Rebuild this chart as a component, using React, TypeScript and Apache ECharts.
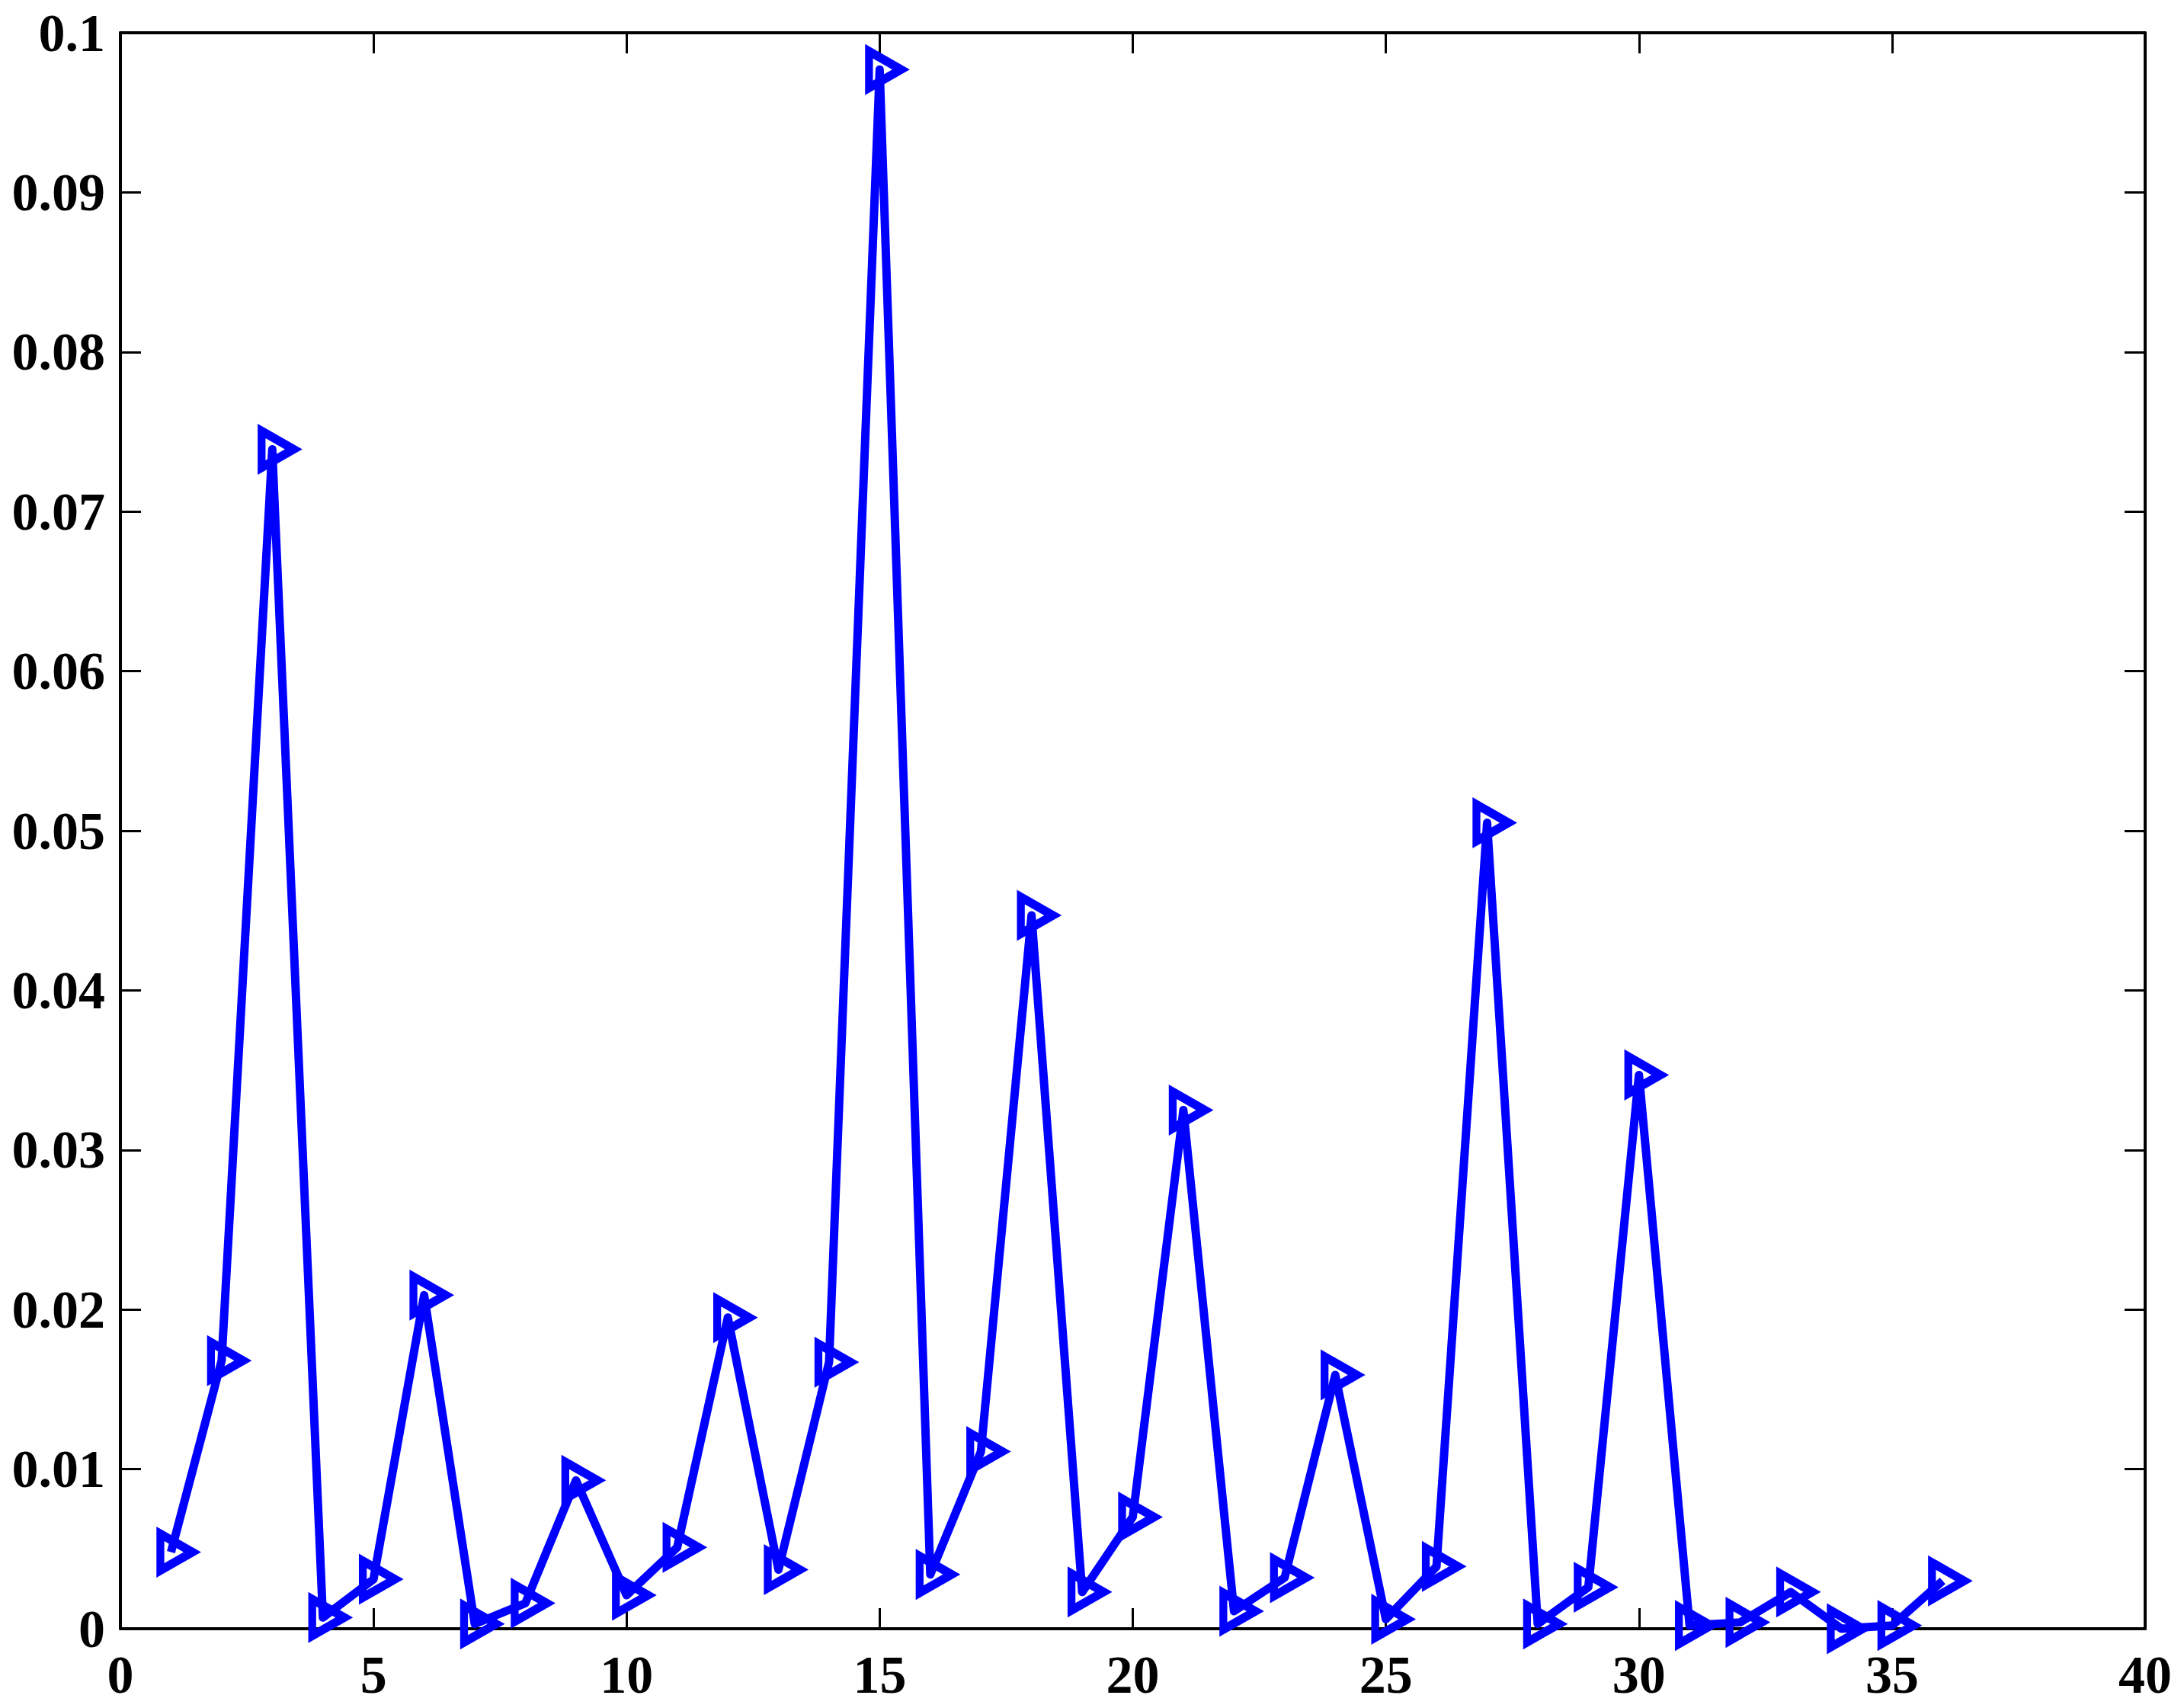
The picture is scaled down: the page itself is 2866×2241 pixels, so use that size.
import React, { useEffect, useRef } from "react";
import * as echarts from "echarts";

const xValues = [1, 2, 3, 4, 5, 6, 7, 8, 9, 10, 11, 12, 13, 14, 15, 16, 17, 18, 19, 20, 21, 22, 23, 24, 25, 26, 27, 28, 29, 30, 31, 32, 33, 34, 35, 36];
const yValues = [
  0.0048, 0.0168, 0.0739, 0.0007, 0.0031, 0.0209, 0.0003, 0.0016, 0.0093, 0.0021,
  0.0051, 0.0195, 0.0037, 0.0167, 0.0977, 0.0034, 0.0111, 0.0447, 0.0023, 0.0070,
  0.0325, 0.0011, 0.0032, 0.0159, 0.0006, 0.0039, 0.0505, 0.0003, 0.0026, 0.0347,
  0.0002, 0.0004, 0.0023, 0.0000, 0.0002, 0.0030,
];
const xTicks = { min: 0, max: 40, interval: 5 };
const yTicks = { min: 0, max: 0.1, interval: 0.01 };

const FONT = "Liberation Serif";

export default function App() {
  const ref = useRef<HTMLDivElement>(null);
  useEffect(() => {
    if (!ref.current) return;
    const chart = echarts.init(ref.current, null, { renderer: "svg" });
    const axisLine = { show: true, onZero: false, lineStyle: { color: "#000", width: 4 } };
    const axisTick = { show: true, inside: true, length: 27, lineStyle: { color: "#000", width: 3 } };
    const label = {
      fontFamily: FONT,
      fontWeight: "bold" as const,
      fontSize: 70,
      color: "#000",
    };
    chart.setOption({
      animation: false,
      backgroundColor: "#fff",
      grid: { left: 158, top: 43, right: 51, bottom: 104, containLabel: false },
      xAxis: [
        {
          type: "value",
          ...xTicks,
          position: "bottom",
          axisLine,
          axisTick,
          splitLine: { show: false },
          axisLabel: { ...label, margin: 25, formatter: (v: number) => String(v) },
        },
        {
          type: "value",
          ...xTicks,
          position: "top",
          axisLine,
          axisTick,
          splitLine: { show: false },
          axisLabel: { show: false },
        },
      ],
      yAxis: [
        {
          type: "value",
          ...yTicks,
          position: "left",
          axisLine,
          axisTick,
          splitLine: { show: false },
          axisLabel: { ...label, margin: 20, formatter: (v: number) => String(+v.toFixed(2)) },
        },
        {
          type: "value",
          ...yTicks,
          position: "right",
          axisLine,
          axisTick,
          splitLine: { show: false },
          axisLabel: { show: false },
        },
      ],
      series: [
        {
          type: "line",
          xAxisIndex: 0,
          yAxisIndex: 0,
          data: xValues.map((x, i) => [x, yValues[i]]),
          clip: false,
          symbol: "triangle",
          symbolSize: [48, 42],
          symbolRotate: -90,
          symbolOffset: [7, 0],
          showAllSymbol: true,
          lineStyle: { color: "#0000ff", width: 11, join: "round" },
          itemStyle: { color: "rgba(255,255,255,0)", borderColor: "#0000ff", borderWidth: 11 },
        },
      ],
    });
    return () => chart.dispose();
  }, []);
  return (
    <div
      ref={ref}
      style={{ position: "absolute", left: 0, top: 0, width: 2866, height: 2241, background: "#fff" }}
    />
  );
}
